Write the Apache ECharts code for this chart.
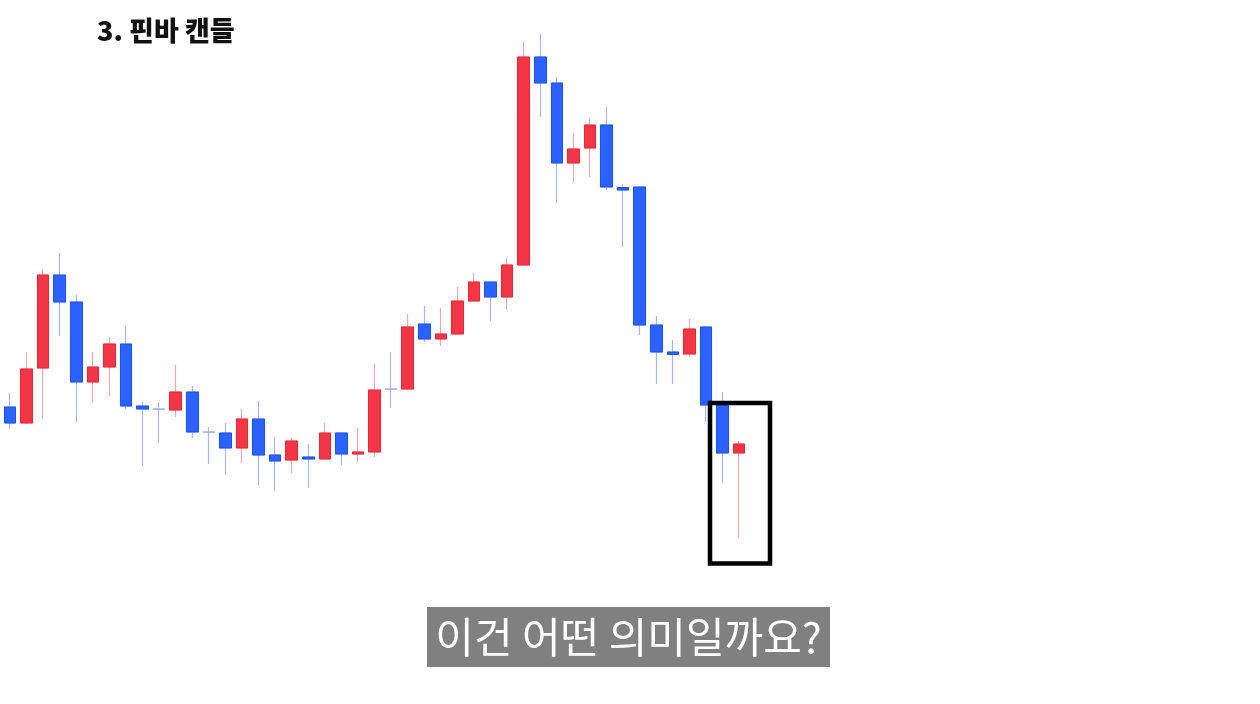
<!DOCTYPE html>
<html>
<head>
<meta charset="utf-8">
<script src="https://cdn.jsdelivr.net/npm/echarts@6/dist/echarts.min.js"></script>
<style>
html,body{margin:0;padding:0;background:#fff;}
#c{width:1260px;height:704px;}
</style>
</head>
<body>
<div id="c"></div>
<script>
// Candle values: [open, close, low, high]
var opens  = [593,577,632,725,698,618,633,656,594,591,590,608,568,567,552,581,545,540,543,541,567,546,548,611,611,676,661,666,699,718,703,735,943,917,837,852,875,812.5,813,675,648,646,673,595,547];
var closes = [577,631,725,698,618,633,656,594,591,590.6,608,568,567.6,552,581,545,539,559,541,567,546,548,610,610.6,673,661,666,699,718,703,735,943,917,837,851,875,813,810,675,648,645.5,671,595,547,556];
var lows   = [571,576,581,664,578,597,604,591,534,557,583,562,536,525,537,515,509,527,512,540,535,538,543,592,611,658,654,666,699,679,691,735,883,797,817,823,810,753,665,616,616,643,578,517,462];
var highs  = [607,648,731,747,705,648,663,674,598,598,635,614,573,577,591,599,563,562,556,577,567,572,636,648,686,694,692,713,727,718,742,958,966,923,867,882,893,816,814,684,660,681,674,608,559];
var categories = opens.map(function(_, i){ return String(i + 1); });
var titleText = '3. 핀바 캔들';
var captionText = '이건 어떤 의미일까요?';

var paleIdx = [9, 12, 23]; // crosses drawn only in wick colour

var wickData = opens.map(function(o, i){ return [o, closes[i], lows[i], highs[i]]; });
var bodyData = opens.map(function(o, i){
  var c = closes[i];
  var item = { value: [o, c, Math.min(o, c), Math.max(o, c)] };
  if (paleIdx.indexOf(i) >= 0) {
    item.itemStyle = { color: '#aab4ee', color0: '#aab4ee', borderColor: '#aab4ee', borderColor0: '#aab4ee' };
  }
  return item;
});

var chart = echarts.init(document.getElementById('c'), null, { renderer: 'canvas' });
chart.setOption({
  animation: false,
  backgroundColor: '#ffffff',
  title: {
    text: titleText, left: 97, top: 17, padding: 0,
    textStyle: { fontSize: 27, fontWeight: 900, color: '#111111', fontFamily: '"Noto Sans CJK KR", sans-serif' }
  },
  grid: { left: 1.7, top: 0, width: 745.7, height: 704, containLabel: false },
  xAxis: {
    type: 'category', data: categories, boundaryGap: true,
    axisLine: { show: false }, axisTick: { show: false }, axisLabel: { show: false }, splitLine: { show: false }
  },
  yAxis: {
    type: 'value', min: 296, max: 1000, scale: true,
    axisLine: { show: false }, axisTick: { show: false }, axisLabel: { show: false }, splitLine: { show: false }
  },
  series: [
    {
      name: 'wick', type: 'candlestick', data: wickData, barWidth: 12,
      itemStyle: { color: 'rgba(0,0,0,0)', color0: 'rgba(0,0,0,0)', borderColor: '#f4a4ac', borderColor0: '#aab4ee', borderWidth: 1.2 },
      z: 2
    },
    {
      name: 'body', type: 'candlestick', data: bodyData, barWidth: 12,
      itemStyle: { color: '#F23645', color0: '#2962FF', borderColor: '#E5283C', borderColor0: '#1F52EE', borderWidth: 1 },
      z: 3
    }
  ],
  graphic: [
    { type: 'rect', shape: { x: 710, y: 403, width: 60, height: 160.5 },
      style: { fill: 'none', stroke: '#000000', lineWidth: 4.5 }, z: 10 },
    { type: 'rect', shape: { x: 427, y: 607, width: 403, height: 60 },
      style: { fill: '#808080' }, z: 10 },
    { type: 'text', x: 628.5, y: 637, z: 11,
      style: { text: captionText, fill: '#ffffff', fontSize: 42, fontFamily: '"Noto Sans CJK KR", sans-serif',
               align: 'center', verticalAlign: 'middle' } }
  ]
});
</script>
</body>
</html>
